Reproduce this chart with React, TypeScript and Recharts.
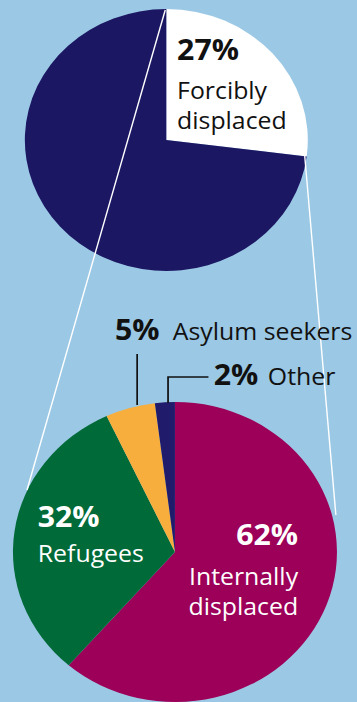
import { PieChart, Pie, Cell } from 'recharts';

// Top pie: share of forcibly displaced
const TOP_NAMES = ['Forcibly displaced', 'Not displaced'];
const TOP_VALUES = [27, 73];
const TOP_COLORS = ['#ffffff', '#1b1763'];

// Bottom pie: breakdown of the forcibly displaced
const BOTTOM_NAMES = ['Internally displaced', 'Refugees', 'Asylum seekers', 'Other'];
const BOTTOM_VALUES = [62, 32, 5, 2];
const BOTTOM_COLORS = ['#9c0058', '#006a38', '#f8ae3c', '#211b6b'];

const topData = TOP_NAMES.map((name, i) => ({ name, value: TOP_VALUES[i] }));
const bottomData = BOTTOM_NAMES.map((name, i) => ({ name, value: BOTTOM_VALUES[i] }));

const STRETCH = 1.08; // the source picture is a bit wider than tall
const W = 331;
const H = 702;
const FONT = '"Open Sans", "Noto Sans", sans-serif';

export default function App() {
  const pct = (v: number) => `${v}%`;
  return (
    <div
      style={{
        position: 'absolute',
        left: 0,
        top: 0,
        width: 357,
        height: 702,
        background: '#9bc8e4',
        overflow: 'hidden',
      }}
    >
      <div
        style={{
          position: 'relative',
          width: W,
          height: H,
          transform: `scaleX(${STRETCH})`,
          transformOrigin: 'left top',
        }}
      >
        <PieChart width={W} height={H} margin={{ top: 0, right: 0, bottom: 0, left: 0 }}>
          <Pie
            data={topData}
            dataKey="value"
            cx={154}
            cy={140}
            outerRadius={131}
            startAngle={90}
            endAngle={-270}
            stroke="none"
            isAnimationActive={false}
          >
            {topData.map((d, i) => (
              <Cell key={d.name} fill={TOP_COLORS[i]} />
            ))}
          </Pie>
          <Pie
            data={bottomData}
            dataKey="value"
            cx={162}
            cy={552}
            outerRadius={150}
            startAngle={90}
            endAngle={-270}
            stroke="none"
            isAnimationActive={false}
          >
            {bottomData.map((d, i) => (
              <Cell key={d.name} fill={BOTTOM_COLORS[i]} />
            ))}
          </Pie>
        </PieChart>

        {/* annotations: connector lines, leaders and labels */}
        <svg
          width={W}
          height={H}
          style={{ position: 'absolute', left: 0, top: 0, pointerEvents: 'none' }}
          fontFamily={FONT}
        >
          <line x1={153} y1={10} x2={25} y2={490} stroke="#ffffff" strokeWidth={1.3} />
          <line x1={282} y1={154} x2={311} y2={515} stroke="#ffffff" strokeWidth={1.3} />

          <line x1={127} y1={354} x2={127} y2={405} stroke="#111" strokeWidth={1.6} />
          <polyline points="155.6,403 155.6,377 193,377" fill="none" stroke="#111" strokeWidth={1.6} />

          {/* top pie label */}
          <text x={164} y={60} fontSize={28} fontWeight={700} fill="#111">{pct(TOP_VALUES[0])}</text>
          <text x={164} y={99} fontSize={23} fill="#111">Forcibly</text>
          <text x={164} y={129} fontSize={23} fill="#111">displaced</text>

          {/* outside labels */}
          <text x={106.5} y={340} fontSize={28} fontWeight={700} fill="#111">{pct(BOTTOM_VALUES[2])}</text>
          <text x={160} y={340} fontSize={23} fill="#111">{BOTTOM_NAMES[2]}</text>
          <text x={198} y={385} fontSize={28} fontWeight={700} fill="#111">{pct(BOTTOM_VALUES[3])}</text>
          <text x={248} y={385} fontSize={23} fill="#111">{BOTTOM_NAMES[3]}</text>

          {/* inside labels */}
          <text x={35} y={527} fontSize={28} fontWeight={700} fill="#fff">{pct(BOTTOM_VALUES[1])}</text>
          <text x={35} y={562} fontSize={23} fill="#fff">{BOTTOM_NAMES[1]}</text>
          <text x={276} y={545} fontSize={28} fontWeight={700} fill="#fff" textAnchor="end">{pct(BOTTOM_VALUES[0])}</text>
          <text x={276} y={585} fontSize={23} fill="#fff" textAnchor="end">Internally</text>
          <text x={276} y={615} fontSize={23} fill="#fff" textAnchor="end">displaced</text>
        </svg>
      </div>
    </div>
  );
}
